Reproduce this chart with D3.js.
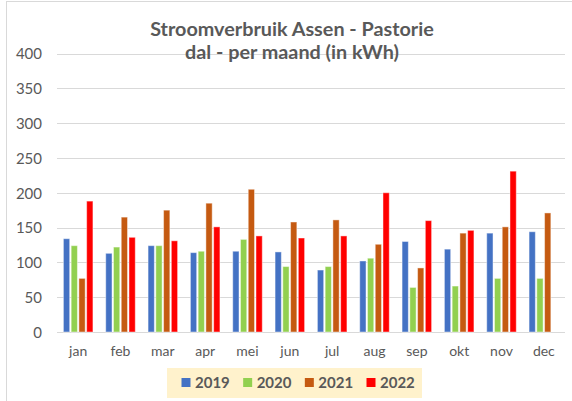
<!DOCTYPE html>
<html><head><meta charset="utf-8">
<script src="https://cdn.jsdelivr.net/npm/d3@7/dist/d3.min.js"></script>
<style>
html,body{margin:0;padding:0;background:#fff;}
svg{display:block;font-family:Lato,"Open Sans",sans-serif;}
</style></head>
<body>
<svg id="chart" width="572" height="401"></svg>
<script>
const months = ["jan","feb","mar","apr","mei","jun","jul","aug","sep","okt","nov","dec"];
const seriesNames = ["2019","2020","2021","2022"];
const colors = ["#4472C4","#92D050","#C55A11","#FF0000"];
const v2019 = [134,113,124,114,116,115,89,102,130,119,142,144];
const v2020 = [124,122,124,116,133,94,94,106,64,66,77,77];
const v2021 = [77,165,175,185,205,158,161,126,92,142,151,171];
const v2022 = [188,136,131,151,138,135,138,200,160,146,231,null];
const yTicks = [0,50,100,150,200,250,300,350,400];
const titleLines = ["Stroomverbruik Assen - Pastorie","dal - per maand (in kWh)"];

const seriesValues = [v2019,v2020,v2021,v2022];
const svg = d3.select("#chart");
const grey = "#595959";

// chart border
svg.append("rect").attr("x",6.5).attr("y",1.5).attr("width",600).attr("height",450)
  .attr("fill","none").attr("stroke","#D9D9D9").attr("stroke-width",1);

const plotL = 57, plotR = 565, plotT = 53.5, plotB = 332;
const y = d3.scaleLinear().domain([0,400]).range([plotB,plotT]);
const x0 = d3.scaleBand().domain(months).range([plotL,plotR]).padding(0);
const grpPad = 6.4;
const x1 = d3.scaleBand().domain(seriesNames).range([grpPad, x0.bandwidth()-grpPad]).paddingInner(0.19).paddingOuter(0);

// gridlines
svg.append("g").selectAll("line").data(yTicks).join("line")
  .attr("x1",plotL).attr("x2",plotR)
  .attr("y1",d=>Math.round(y(d))+0.5).attr("y2",d=>Math.round(y(d))+0.5)
  .attr("stroke","#D9D9D9").attr("stroke-width",1);

// y axis labels
const yAxis = d3.axisLeft(y).tickValues(yTicks).tickSize(0).tickPadding(0);
const ya = svg.append("g").attr("transform",`translate(42,0)`).call(yAxis);
ya.select(".domain").remove();
ya.selectAll("text").attr("fill",grey).style("font-size","15px").style("font-family","Lato, sans-serif").attr("dy","0.35em");

// bars
const g = svg.append("g");
months.forEach((m,i)=>{
  const grp = g.append("g").attr("transform",`translate(${x0(m)},0)`);
  seriesNames.forEach((s,j)=>{
    const v = seriesValues[j][i];
    if(v==null) return;
    grp.append("rect")
      .attr("x",x1(s)).attr("width",x1.bandwidth())
      .attr("y",y(v)).attr("height",y(0)-y(v))
      .attr("fill",colors[j])
      .attr("stroke","#ffffff").attr("stroke-opacity",0.45).attr("stroke-width",1);
  });
});

// x axis labels
const xAxis = d3.axisBottom(x0).tickSize(0).tickPadding(0);
const xa = svg.append("g").attr("transform",`translate(0,351)`).call(xAxis);
xa.select(".domain").remove();
xa.selectAll("text").attr("fill",grey).style("font-size","14px").style("font-family","Lato, sans-serif").attr("dy","0.35em");

// title
const title = svg.append("text").attr("text-anchor","middle").attr("fill",grey)
  .style("font-weight","bold").style("font-size","19.8px");
title.append("tspan").attr("x",292).attr("y",36).text(titleLines[0]);
title.append("tspan").attr("x",292).attr("y",59).text(titleLines[1]);

// legend
const legend = svg.append("g");
legend.append("rect").attr("x",167).attr("y",368).attr("width",255).attr("height",30).attr("fill","#FFF2CC");
const legX = d3.scalePoint().domain(seriesNames).range([181.5,366.5]);
seriesNames.forEach((s,j)=>{
  legend.append("rect").attr("x",legX(s)).attr("y",378).attr("width",9).attr("height",9).attr("fill",colors[j]);
  legend.append("text").attr("x",legX(s)+13.5).attr("y",382.5).attr("dy","0.35em")
    .attr("fill",grey).style("font-weight","bold").style("font-size","15px").text(s);
});
</script>
</body></html>
